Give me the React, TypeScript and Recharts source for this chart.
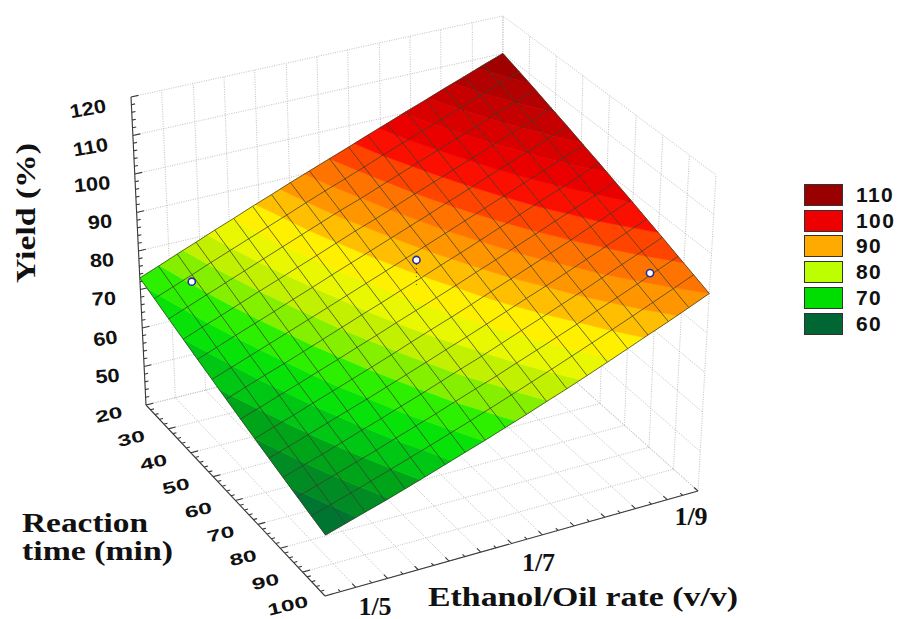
import React from "react";
import { ScatterChart, Scatter, XAxis, YAxis, Legend } from "recharts";

// oil parts per ethanol part (1/5 ... 1/9) at the mesh columns
const ethanolNodes = [5, 5.21, 5.42, 5.63, 5.84, 6.05, 6.26, 6.47, 6.68, 6.89, 7.11, 7.32, 7.53, 7.74, 7.95, 8.16, 8.37, 8.58, 8.79, 9];
const timeNodes = [20, 26.2, 32.3, 38.5, 44.6, 50.8, 56.9, 63.1, 69.2, 75.4, 81.5, 87.7, 93.8, 100];

// yield (%), one row per time node
const yieldRows = [
  [73.0, 74.9, 76.9, 78.8, 80.8, 82.7, 84.7, 86.6, 88.6, 90.5, 92.5, 94.4, 96.4, 98.3, 100.3, 102.2, 104.2, 106.1, 108.1, 110.0],
  [72.0, 73.9, 75.8, 77.8, 79.7, 81.6, 83.5, 85.4, 87.4, 89.3, 91.2, 93.1, 95.1, 97.0, 98.9, 100.8, 102.7, 104.7, 106.6, 108.5],
  [71.0, 72.9, 74.8, 76.7, 78.6, 80.5, 82.4, 84.3, 86.2, 88.1, 89.9, 91.8, 93.7, 95.6, 97.5, 99.4, 101.3, 103.2, 105.1, 107.0],
  [70.0, 71.9, 73.7, 75.6, 77.5, 79.3, 81.2, 83.0, 84.9, 86.8, 88.6, 90.5, 92.4, 94.2, 96.1, 97.9, 99.8, 101.7, 103.5, 105.4],
  [69.0, 70.8, 72.7, 74.5, 76.3, 78.2, 80.0, 81.9, 83.7, 85.5, 87.4, 89.2, 91.0, 92.9, 94.7, 96.6, 98.4, 100.2, 102.1, 103.9],
  [68.0, 69.8, 71.6, 73.4, 75.2, 77.0, 78.8, 80.6, 82.4, 84.2, 86.1, 87.9, 89.7, 91.5, 93.3, 95.1, 96.9, 98.7, 100.5, 102.3],
  [67.0, 68.8, 70.6, 72.3, 74.1, 75.9, 77.7, 79.5, 81.2, 83.0, 84.8, 86.6, 88.3, 90.1, 91.9, 93.7, 95.5, 97.2, 99.0, 100.8],
  [66.0, 67.7, 69.5, 71.2, 73.0, 74.7, 76.5, 78.2, 80.0, 81.7, 83.5, 85.2, 87.0, 88.7, 90.5, 92.2, 94.0, 95.7, 97.4, 99.2],
  [65.0, 66.7, 68.4, 70.2, 71.9, 73.6, 75.3, 77.0, 78.8, 80.5, 82.2, 83.9, 85.7, 87.4, 89.1, 90.8, 92.5, 94.3, 96.0, 97.7],
  [64.0, 65.7, 67.4, 69.1, 70.8, 72.4, 74.1, 75.8, 77.5, 79.2, 80.9, 82.6, 84.3, 86.0, 87.6, 89.3, 91.0, 92.7, 94.4, 96.1],
  [63.0, 64.7, 66.3, 68.0, 69.7, 71.3, 73.0, 74.6, 76.3, 78.0, 79.6, 81.3, 83.0, 84.6, 86.3, 87.9, 89.6, 91.3, 92.9, 94.6],
  [62.0, 63.6, 65.3, 66.9, 68.5, 70.2, 71.8, 73.4, 75.1, 76.7, 78.3, 80.0, 81.6, 83.2, 84.8, 86.5, 88.1, 89.7, 91.4, 93.0],
  [61.0, 62.6, 64.2, 65.8, 67.4, 69.0, 70.6, 72.2, 73.8, 75.4, 77.1, 78.7, 80.3, 81.9, 83.5, 85.1, 86.7, 88.3, 89.9, 91.5],
  [60.0, 61.6, 63.2, 64.7, 66.3, 67.9, 69.5, 71.1, 72.6, 74.2, 75.8, 77.4, 78.9, 80.5, 82.1, 83.7, 85.3, 86.8, 88.4, 90.0],
];

// measured runs: ethanol, time, yield
const runEthanol = [5.38, 7.17, 8.7];
const runTime = [27.6, 52.7, 88];
const runYield = [75.2, 86.4, 91.6];

const yieldTicks = [40, 50, 60, 70, 80, 90, 100, 110, 120];
const yieldLabels = [50, 60, 70, 80, 90, 100, 110, 120];
const yieldLabelAngles = [-5, -8, -3, -3, -4, -5, -10, -10];
const timeTicks = [20, 30, 40, 50, 60, 70, 80, 90, 100];
const ethanolGrid = [5, 5.33, 5.67, 6, 6.33, 6.67, 7, 7.33, 7.67, 8, 8.33, 8.67, 9];
const ethanolTickLabels = ["1/5", "1/7", "1/9"];

const legendLevels = [110, 100, 90, 80, 70, 60];
const legendColors = ["#990000", "#ee0000", "#ffaa00", "#bbff00", "#00dd00", "#006633"];

// colour ramp of the surface
const rampLevels = [58, 60, 66, 70, 73, 75.5, 78, 80.5, 83, 85.5, 88, 92, 95, 97, 103, 110];
const rampColors = ["#005c3a", "#006838", "#00a018", "#00d810", "#10f000", "#70f000", "#b4f000", "#e0f400", "#ffff00", "#ffcc00", "#ffa000", "#ff6a00", "#ff2800", "#f80000", "#cc0000", "#960000"];
const bandStep = 2.5;

// screen position of the 3D box corners, [low ethanol/early, ...]
const floorEarly = [[146, 405], [502, 316]];
const floorLate = [[325, 596], [698, 491]];
const topEarly = [[131, 97], [503, 16]];
const topLate = [[327, 352], [716, 175]];

type P = { x: number; y: number };
type PZ = P & { z: number };

const mix = (a: number, b: number, t: number) => a + (b - a) * t;

function project(ethanol: number, time: number, value: number): P {
  const u = (ethanol - 5) / 4;
  const v = (time - 20) / 80;
  const w = (value - 40) / 80;
  const out = [0, 1].map((k) => {
    const bottom = mix(mix(floorEarly[0][k], floorEarly[1][k], u), mix(floorLate[0][k], floorLate[1][k], u), v);
    const top = mix(mix(topEarly[0][k], topEarly[1][k], u), mix(topLate[0][k], topLate[1][k], u), v);
    return mix(bottom, top, w);
  });
  return { x: out[0], y: out[1] };
}

function rampColor(value: number) {
  let i = 0;
  while (i < rampLevels.length - 2 && value > rampLevels[i + 1]) i++;
  const t = Math.max(0, Math.min(1, (value - rampLevels[i]) / (rampLevels[i + 1] - rampLevels[i])));
  const hex = (c: string, o: number) => parseInt(c.slice(o, o + 2), 16);
  const ch = [1, 3, 5].map((o) => Math.round(mix(hex(rampColors[i], o), hex(rampColors[i + 1], o), t)));
  return `rgb(${ch[0]},${ch[1]},${ch[2]})`;
}

// keep the part of a polygon on one side of a yield level
function clipPoly(poly: PZ[], level: number, above: boolean): PZ[] {
  const out: PZ[] = [];
  poly.forEach((a, i) => {
    const b = poly[(i + 1) % poly.length];
    const ain = above ? a.z >= level : a.z <= level;
    const bin = above ? b.z >= level : b.z <= level;
    if (ain) out.push(a);
    if (ain !== bin) {
      const t = (level - a.z) / (b.z - a.z);
      out.push({ x: mix(a.x, b.x, t), y: mix(a.y, b.y, t), z: level });
    }
  });
  return out;
}

const nodeAt = (r: number, c: number): PZ => ({
  ...project(ethanolNodes[c], timeNodes[r], yieldRows[r][c]),
  z: yieldRows[r][c],
});

const bandData: P[] = [];
const bandGroups: { n: number; fill: string }[] = [];
for (let r = 0; r < timeNodes.length - 1; r++) {
  for (let c = 0; c < ethanolNodes.length - 1; c++) {
    const quad = [nodeAt(r, c), nodeAt(r, c + 1), nodeAt(r + 1, c + 1), nodeAt(r + 1, c)];
    const zs = quad.map((q) => q.z);
    const first = Math.floor(Math.min(...zs) / bandStep);
    const last = Math.floor(Math.max(...zs) / bandStep);
    for (let b = first; b <= last; b++) {
      const piece = clipPoly(clipPoly(quad, b * bandStep, true), (b + 1) * bandStep, false);
      if (piece.length < 3) continue;
      bandGroups.push({ n: piece.length, fill: rampColor((b + 0.5) * bandStep) });
      piece.forEach((q) => bandData.push({ x: q.x, y: q.y }));
    }
  }
}

const meshData: P[] = [];
timeNodes.forEach((_, r) => {
  for (let c = 0; c < ethanolNodes.length - 1; c++) {
    meshData.push(nodeAt(r, c));
    meshData.push(nodeAt(r, c + 1));
  }
});
ethanolNodes.forEach((_, c) => {
  for (let r = 0; r < timeNodes.length - 1; r++) {
    meshData.push(nodeAt(r, c));
    meshData.push(nodeAt(r + 1, c));
  }
});

const segs = (list: number[][]): P[] => list.map(([a, b, c]) => project(a, b, c));

const gridList: number[][] = [];
ethanolGrid.forEach((e) => {
  gridList.push([e, 20, 40], [e, 20, 120], [e, 20, 40], [e, 100, 40]);
});
timeTicks.forEach((t) => {
  gridList.push([9, t, 40], [9, t, 120], [5, t, 40], [9, t, 40]);
});
yieldTicks.forEach((y) => {
  gridList.push([5, 20, y], [9, 20, y], [9, 20, y], [9, 100, y]);
});
const gridData = segs(gridList);

const axisList: number[][] = [
  [5, 20, 40], [5, 20, 120],
  [5, 20, 40], [5, 100, 40],
  [5, 100, 40], [9, 100, 40],
];
for (let y = 40; y <= 120; y += 2) {
  axisList.push([5, 20, y], [5 + (y % 10 === 0 ? 0.08 : 0.04), 20, y]);
}
for (let t = 20; t <= 100; t += 2) {
  axisList.push([5, t, 40], [5 + (t % 10 === 0 ? 0.08 : 0.04), t, 40]);
}
ethanolGrid.forEach((e, i) => {
  axisList.push([e, 100, 40], [e, 98.4, 40]);
  if (i < ethanolGrid.length - 1) {
    const mid = (e + ethanolGrid[i + 1]) / 2;
    axisList.push([mid, 100, 40], [mid, 99, 40]);
  }
});
const axisData = segs(axisList);

const stemData = [project(runEthanol[1], runTime[1], runYield[1]), project(runEthanol[1], runTime[1], 78.9)];
const runData = runEthanol.map((e, i) => project(e, runTime[i], runYield[i]));

const yieldLabelData = yieldLabels.map((y, i) => ({ ...project(5, 20, y), label: String(y), angle: yieldLabelAngles[i] }));
const timeLabelData = timeTicks.map((t) => ({ ...project(5, t, 40), label: String(t) }));
const ethanolLabelData = ethanolTickLabels.map((label, i) => ({ ...project(5 + i * 2, 100, 40), label, idx: i }));

const noDot = () => null;
const sans = "Liberation Sans, Arial, sans-serif";
const serif = "Liberation Serif, Times New Roman, serif";

const drawPieces = (props: any) => {
  let at = 0;
  return (
    <g>
      {bandGroups.map((g, i) => {
        const pts = props.points.slice(at, at + g.n);
        at += g.n;
        const d = pts.map((p: P, k: number) => `${k ? "L" : "M"}${p.x} ${p.y}`).join("") + "Z";
        return <path key={i} d={d} fill={g.fill} stroke={g.fill} strokeWidth={0.6} />;
      })}
    </g>
  );
};

const drawSegments = (stroke: string, width: number, dash?: string) => (props: any) => {
  let d = "";
  for (let i = 0; i + 1 < props.points.length; i += 2) {
    const a = props.points[i];
    const b = props.points[i + 1];
    d += `M${a.x} ${a.y}L${b.x} ${b.y}`;
  }
  return <path d={d} fill="none" stroke={stroke} strokeWidth={width} strokeDasharray={dash} />;
};

const YieldLabel = (props: any) => (
  <text
    transform={`translate(${props.cx - 24},${props.cy + 15}) rotate(${props.payload.angle}) scale(1.15,1)`}
    textAnchor="end"
    fontFamily={sans}
    fontWeight="bold"
    fontSize={19}
    fill="#111"
  >
    {props.payload.label}
  </text>
);

const TimeLabel = (props: any) => (
  <text
    transform={`translate(${props.cx - 36},${props.cy + 15}) rotate(-13) scale(1.3,0.85)`}
    textAnchor="middle"
    fontFamily={sans}
    fontWeight="bold"
    fontSize={19}
    fill="#111"
  >
    {props.payload.label}
  </text>
);

const ethanolLabelOffsets = [[50, 19], [27, 27], [-7, 34]];
const EthanolLabel = (props: any) => {
  const [dx, dy] = ethanolLabelOffsets[props.payload.idx];
  return (
    <text x={props.cx + dx} y={props.cy + dy} textAnchor="middle" fontFamily={serif} fontWeight="bold" fontSize={26} fill="#111">
      {props.payload.label}
    </text>
  );
};

const RunDot = (props: any) => (
  <circle cx={props.cx} cy={props.cy} r={3.6} fill="#fff" stroke="#20309a" strokeWidth={1.6} />
);

const LegendBox = () => (
  <div style={{ width: 94 }}>
    {legendLevels.map((level, i) => (
      <div key={level} style={{ display: "flex", alignItems: "center", height: 25.8 }}>
        <div style={{ width: 37, height: 20, background: legendColors[i], border: "1px solid #333", boxSizing: "content-box" }} />
        <span style={{ marginLeft: 13, fontFamily: sans, fontWeight: "bold", fontSize: 21, letterSpacing: 1.4, color: "#111" }}>{level}</span>
      </div>
    ))}
  </div>
);

const titleStyle = { fontFamily: serif, fontWeight: "bold", fontSize: 27, fill: "#111" } as const;

export default function App() {
  return (
    <div style={{ position: "absolute", left: 0, top: 0, width: 898, height: 619, background: "#fff" }}>
      <ScatterChart width={898} height={619} margin={{ top: 0, right: 0, bottom: 0, left: 0 }}>
        <XAxis type="number" dataKey="x" domain={[0, 898]} hide allowDataOverflow />
        <YAxis type="number" dataKey="y" domain={[0, 619]} reversed hide allowDataOverflow />
        <Legend
          layout="vertical"
          align="center"
          verticalAlign="middle"
          wrapperStyle={{ left: 804, top: 182, width: 94 }}
          content={LegendBox}
        />
        <Scatter data={gridData} shape={noDot} line={drawSegments("#c0c0c0", 1, "1 1.4")} isAnimationActive={false} />
        <Scatter data={axisData} shape={noDot} line={drawSegments("#3a3a3a", 1.1)} isAnimationActive={false} />
        <Scatter data={bandData} shape={noDot} line={drawPieces} isAnimationActive={false} />
        <Scatter data={meshData} shape={noDot} line={drawSegments("rgba(50,55,35,0.72)", 1)} isAnimationActive={false} />
        <Scatter data={stemData} shape={noDot} line={drawSegments("#444", 1, "1 3")} isAnimationActive={false} />
        <Scatter data={runData} shape={RunDot} isAnimationActive={false} />
        <Scatter data={yieldLabelData} shape={YieldLabel} isAnimationActive={false} />
        <Scatter data={timeLabelData} shape={TimeLabel} isAnimationActive={false} />
        <Scatter data={ethanolLabelData} shape={EthanolLabel} isAnimationActive={false} />
        <text transform="translate(35,283) rotate(-90)" textLength={140} lengthAdjust="spacingAndGlyphs" {...titleStyle}>
          Yield (%)
        </text>
        <text x={22} y={532} textLength={126} lengthAdjust="spacingAndGlyphs" {...titleStyle}>
          Reaction
        </text>
        <text x={22} y={560} textLength={151} lengthAdjust="spacingAndGlyphs" {...titleStyle}>
          time (min)
        </text>
        <text x={428} y={606} textLength={310} lengthAdjust="spacingAndGlyphs" {...titleStyle}>
          Ethanol/Oil rate (v/v)
        </text>
      </ScatterChart>
    </div>
  );
}
